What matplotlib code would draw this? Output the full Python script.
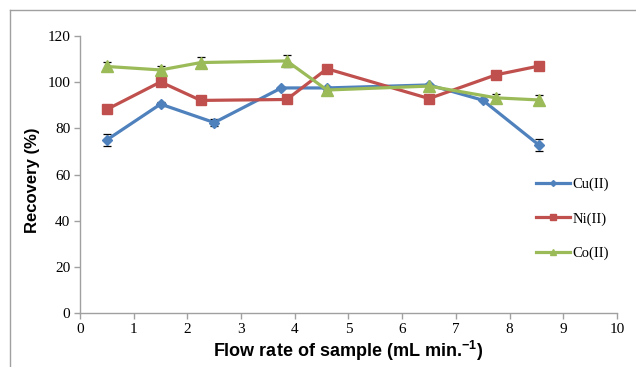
import matplotlib
matplotlib.use('Agg')
import matplotlib.pyplot as plt
from matplotlib.lines import Line2D

# data
cu_x = [0.5, 1.5, 2.5, 3.75, 4.6, 6.5, 7.5, 8.55]
cu_y = [75.0, 90.5, 82.5, 97.5, 97.5, 98.8, 92.2, 72.7]
cu_err = [2.5, 1.0, 1.5, 0.5, 0.5, 0.5, 0.5, 2.5]

ni_x = [0.5, 1.5, 2.25, 3.85, 4.6, 6.5, 7.75, 8.55]
ni_y = [88.2, 100.1, 92.1, 92.5, 105.8, 92.9, 103.2, 107.0]
ni_err = [1.5, 0.5, 0.5, 0.5, 0.5, 0.5, 0.5, 0.5]

co_x = [0.5, 1.5, 2.25, 3.85, 4.6, 6.5, 7.75, 8.55]
co_y = [106.8, 105.3, 108.5, 109.2, 96.6, 98.3, 93.2, 92.3]
co_err = [2.0, 1.5, 2.5, 2.5, 0.5, 0.5, 1.5, 2.0]

series = [
    ('Cu(II)', cu_x, cu_y, cu_err, '#4F81BD', 'D', 5),
    ('Ni(II)', ni_x, ni_y, ni_err, '#C0504D', 's', 7.5),
    ('Co(II)', co_x, co_y, co_err, '#9BBB59', '^', 8),
]

serif = ['Liberation Serif', 'DejaVu Serif']
sans = ['Liberation Sans', 'DejaVu Sans']

plt.rcParams['mathtext.fontset'] = 'custom'
plt.rcParams['mathtext.rm'] = 'Liberation Sans:bold'
plt.rcParams['mathtext.bf'] = 'Liberation Sans:bold'
plt.rcParams['mathtext.default'] = 'bf'

fig = plt.figure(figsize=(6.36, 3.67), dpi=100)
ax = fig.add_axes([0.1258, 0.1471, 0.8443, 0.7548])

handles = []
for name, xs, ys, errs, color, marker, ms in series:
    ax.errorbar(xs, ys, yerr=errs, fmt='none', ecolor='black', elinewidth=0.9,
                capsize=3, capthick=0.9, zorder=2)
    h, = ax.plot(xs, ys, color=color, lw=2.3, marker=marker, markersize=ms,
                 markeredgecolor=color, label=name, zorder=3)
    handles.append(h)

ax.set_xlim(0, 10)
ax.set_ylim(0, 120)
ax.set_xticks(range(0, 11))
ax.set_yticks(range(0, 121, 20))

for side in ['top', 'right']:
    ax.spines[side].set_visible(False)
for side in ['left', 'bottom']:
    ax.spines[side].set_color('#A0A0A0')
    ax.spines[side].set_linewidth(1.0)
ax.tick_params(direction='out', length=4, width=1.0, color='#A0A0A0',
               labelsize=11, pad=3)
for lab in ax.get_xticklabels() + ax.get_yticklabels():
    lab.set_family(serif)

ax.set_xlabel('Flow rate of sample (mL min.$^{-1}$)', family=sans,
              fontweight='bold', fontsize=13)
ax.set_ylabel('Recovery (%)', family=sans, fontweight='bold', fontsize=12)
ax.xaxis.set_label_coords(0.5, -0.095)
ax.yaxis.set_label_coords(-0.075, 0.48)

leg = ax.legend(handles=handles, loc='center left', bbox_to_anchor=(0.825, 0.34),
                frameon=False, prop={'family': serif, 'size': 10.5},
                handlelength=2.3, labelspacing=1.45, handletextpad=0.2,
                markerscale=0.6)

# outer chart-area border (left and top edges visible)
fig.add_artist(Line2D([10 / 636, 10 / 636], [0, 1 - 10 / 367],
                      transform=fig.transFigure, color='#A0A0A0', lw=1.0))
fig.add_artist(Line2D([10 / 636, 1], [1 - 10 / 367, 1 - 10 / 367],
                      transform=fig.transFigure, color='#A0A0A0', lw=1.0))

fig.savefig('out.png', dpi=100)
